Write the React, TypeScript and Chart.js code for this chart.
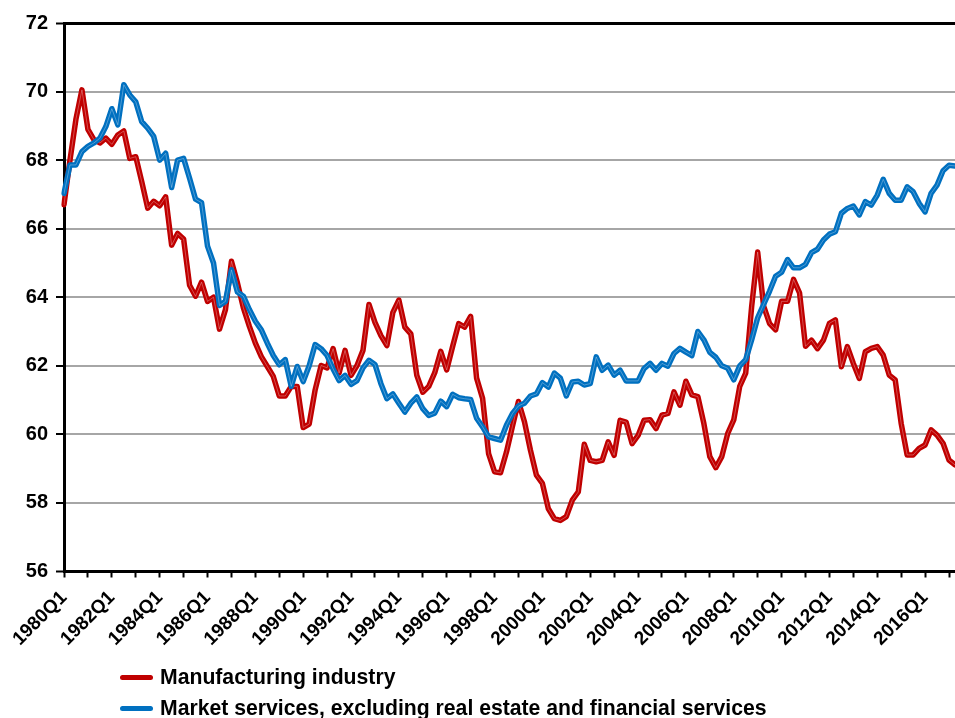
import React, { useEffect, useRef } from "react";
import { Chart, registerables } from "chart.js";

Chart.register(...registerables);

const START_YEAR = 1980;
const N_QUARTERS = 150;
const QUARTER_LABELS: string[] = [];
for (let i = 0; i < N_QUARTERS; i++) {
  QUARTER_LABELS.push(`${START_YEAR + Math.floor(i / 4)}Q${(i % 4) + 1}`);
}

const MANUFACTURING: number[] = [
  66.7, 68.0, 69.2, 70.05, 68.9, 68.6, 68.5, 68.64, 68.46, 68.73,
  68.85, 68.05, 68.1, 67.37, 66.6, 66.8, 66.67, 66.93, 65.52, 65.86,
  65.7, 64.35, 64.03, 64.44, 63.88, 64.0, 63.07, 63.64, 65.05, 64.42,
  63.69, 63.15, 62.66, 62.27, 61.98, 61.69, 61.12, 61.12, 61.4, 61.4,
  60.2, 60.3, 61.3, 62.01, 61.94, 62.5, 61.79, 62.45, 61.72, 62.01,
  62.45, 63.79, 63.27, 62.88, 62.59, 63.56, 63.92, 63.13, 62.93, 61.72,
  61.23, 61.4, 61.8, 62.42, 61.88, 62.57, 63.23, 63.13, 63.44, 61.64,
  61.05, 59.44, 58.91, 58.88, 59.49, 60.24, 60.96, 60.37, 59.54, 58.81,
  58.57, 57.83, 57.54, 57.49, 57.6, 58.08, 58.32, 59.71, 59.24, 59.2,
  59.24, 59.78, 59.39, 60.41, 60.36, 59.73, 59.97, 60.41, 60.43, 60.17,
  60.56, 60.61, 61.24, 60.85, 61.55, 61.15, 61.1, 60.32, 59.35, 59.03,
  59.35, 60.03, 60.42, 61.4, 61.79, 63.74, 65.32, 63.74, 63.23, 63.05,
  63.88, 63.88, 64.52, 64.13, 62.57, 62.75, 62.5, 62.75, 63.24, 63.34,
  61.97, 62.56, 62.07, 61.63, 62.41, 62.51, 62.56, 62.31, 61.73, 61.59,
  60.32, 59.4, 59.4, 59.59, 59.69, 60.13, 59.98, 59.74, 59.25, 59.11,
];

const MARKET_SERVICES: number[] = [
  67.03, 67.86, 67.86, 68.25, 68.4, 68.5, 68.64, 68.98, 69.5, 69.03,
  70.2, 69.9, 69.7, 69.12, 68.93, 68.69, 68.0, 68.2, 67.2, 68.0,
  68.05, 67.47, 66.86, 66.76, 65.49, 65.0, 63.76, 63.88, 64.8, 64.15,
  64.03, 63.64, 63.3, 63.05, 62.66, 62.3, 62.03, 62.18, 61.4, 61.98,
  61.54, 62.0, 62.62, 62.5, 62.3, 61.91, 61.57, 61.72, 61.46, 61.57,
  61.94, 62.16, 62.04, 61.48, 61.04, 61.18, 60.91, 60.65, 60.91, 61.09,
  60.75, 60.55, 60.62, 60.97, 60.81, 61.17, 61.07, 61.04, 61.02, 60.47,
  60.22, 59.93, 59.88, 59.83, 60.27, 60.61, 60.83, 60.91, 61.12, 61.18,
  61.51, 61.38, 61.79, 61.64, 61.12, 61.53, 61.55, 61.44, 61.48, 62.26,
  61.87, 62.02, 61.73, 61.87, 61.56, 61.56, 61.56, 61.92, 62.07, 61.87,
  62.07, 61.99, 62.36, 62.51, 62.4, 62.3, 63.0, 62.76, 62.39, 62.25,
  62.0, 61.93, 61.59, 62.0, 62.18, 62.76, 63.4, 63.79, 64.18, 64.61,
  64.73, 65.1, 64.86, 64.86, 64.96, 65.3, 65.4, 65.67, 65.84, 65.91,
  66.45, 66.59, 66.66, 66.4, 66.79, 66.69, 66.98, 67.44, 67.03, 66.83,
  66.83, 67.22, 67.08, 66.74, 66.49, 67.03, 67.27, 67.69, 67.85, 67.83,
];

const SERIES_NAMES = [
  "Manufacturing industry",
  "Market services, excluding real estate and financial services",
];
const SERIES_COLORS = ["#c00000", "#0070c0"];

const Y_MIN = 56;
const Y_MAX = 72;
const Y_STEP = 2;

const FONT_FAMILY = "'Liberation Sans', Arial, sans-serif";

export default function App() {
  const canvasRef = useRef<HTMLCanvasElement | null>(null);

  useEffect(() => {
    if (!canvasRef.current) return;
    const core = "rgba(255,255,255,0.3)";
    const lineCommon = {
      pointRadius: 0,
      pointHoverRadius: 0,
      tension: 0,
      fill: false,
      borderJoinStyle: "round" as const,
      borderCapStyle: "round" as const,
    };
    const chart = new Chart(canvasRef.current, {
      type: "line",
      data: {
        labels: QUARTER_LABELS,
        datasets: [
          { ...lineCommon, label: SERIES_NAMES[0], data: MANUFACTURING, borderColor: SERIES_COLORS[0], borderWidth: 5.5, order: 4 },
          { ...lineCommon, label: SERIES_NAMES[0] + " core", data: MANUFACTURING, borderColor: core, borderWidth: 1, order: 3 },
          { ...lineCommon, label: SERIES_NAMES[1], data: MARKET_SERVICES, borderColor: SERIES_COLORS[1], borderWidth: 5.5, order: 2 },
          { ...lineCommon, label: SERIES_NAMES[1] + " core", data: MARKET_SERVICES, borderColor: core, borderWidth: 1, order: 1 },
        ],
      },
      options: {
        animation: false,
        responsive: false,
        events: [],
        layout: { padding: { top: 23, bottom: 56.5, left: 0, right: 0 } },
        plugins: {
          legend: { display: false },
          tooltip: { enabled: false },
          title: { display: false },
        },
        scales: {
          x: {
            type: "category",
            offset: false,
            afterFit: (scale: any) => {
              scale.height = 90;
              scale.paddingRight = 0;
            },
            border: { display: true, color: "#000", width: 3 },
            grid: {
              drawOnChartArea: false,
              drawTicks: true,
              tickLength: 6,
              tickWidth: 2,
              color: (ctx: any) => (ctx.index % 4 === 0 ? "#000" : "rgba(0,0,0,0)"),
              tickColor: (ctx: any) => (ctx.index % 4 === 0 ? "#000" : "rgba(0,0,0,0)"),
            },
            ticks: {
              autoSkip: false,
              maxRotation: 45,
              minRotation: 45,
              padding: 9,
              color: "#000",
              font: { family: FONT_FAMILY, size: 19, weight: "bold" },
              callback: function (this: any, value: any, index: number) {
                return index % 8 === 0 ? this.getLabelForValue(value) : "";
              },
            },
          },
          y: {
            min: Y_MIN,
            max: Y_MAX,
            afterFit: (scale: any) => {
              scale.width = 64;
            },
            border: { display: true, color: "#000", width: 3 },
            grid: {
              drawOnChartArea: true,
              drawTicks: true,
              tickLength: 8,
              tickWidth: 2,
              tickColor: "#000",
              color: (ctx: any) =>
                ctx.tick && (ctx.tick.value === Y_MAX || ctx.tick.value === Y_MIN) ? "#000" : "#a6a6a6",
              lineWidth: (ctx: any) =>
                ctx.tick && (ctx.tick.value === Y_MAX || ctx.tick.value === Y_MIN) ? 3 : 2,
            },
            ticks: {
              stepSize: Y_STEP,
              padding: 8,
              color: "#000",
              font: { family: FONT_FAMILY, size: 20, weight: "bold" },
            },
          },
        },
      },
    });
    return () => chart.destroy();
  }, []);

  const legendItem = (i: number, top: number) => (
    <div
      key={i}
      style={{
        position: "absolute",
        left: 120,
        top,
        height: 30,
        display: "flex",
        alignItems: "center",
        whiteSpace: "nowrap",
      }}
    >
      <span
        style={{
          display: "inline-block",
          width: 33,
          height: 5,
          borderRadius: 2.5,
          background: SERIES_COLORS[i],
          marginRight: 7,
        }}
      />
      <span
        style={{
          fontFamily: FONT_FAMILY,
          fontWeight: "bold",
          fontSize: 21.2,
          color: "#000",
        }}
      >
        {SERIES_NAMES[i]}
      </span>
    </div>
  );

  return (
    <div style={{ position: "absolute", left: 0, top: 0, width: 955, height: 718, background: "#fff", overflow: "hidden" }}>
      <canvas ref={canvasRef} width={955} height={718} style={{ position: "absolute", left: 0, top: 0, width: 955, height: 718 }} />
      {legendItem(0, 662)}
      {legendItem(1, 693)}
    </div>
  );
}
